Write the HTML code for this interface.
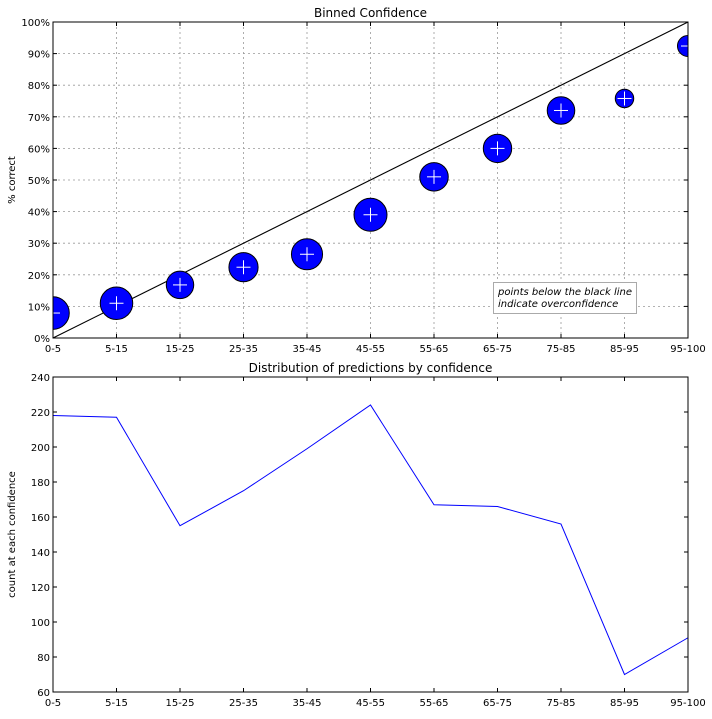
<!DOCTYPE html>
<html><head><meta charset="utf-8"><style>
body{margin:0;background:#fff;}
svg text{font-family:"DejaVu Sans","Liberation Sans",sans-serif;font-size:10px;fill:#000;}
</style></head><body>
<svg id="c" width="712" height="714"></svg>
<script>
const categories=["0-5","5-15","15-25","25-35","35-45","45-55","55-65","65-75","75-85","85-95","95-100"];
const pctCorrect=[7.9,11,16.8,22.4,26.5,39,51,60,72,75.8,92.4];
const counts=[218,217,155,175,199,224,167,166,156,70,91];
const pctTicks=[0,10,20,30,40,50,60,70,80,90,100];
const countTicks=[60,80,100,120,140,160,180,200,220,240];
const NS="http://www.w3.org/2000/svg";
const svg=document.getElementById('c');
function mk(t,a,p){const e=document.createElementNS(NS,t);for(const k in a)e.setAttribute(k,a[k]);(p||svg).appendChild(e);return e;}
const L=53,R=688;
const xs=i=>L+i*(R-L)/(categories.length-1);
const T1=22,B1=338;const y1=v=>B1-v/100*(B1-T1);
const T2=377,B2=692;const y2=v=>B2-(v-60)/180*(B2-T2);
function axes(T,B,ticks,yf,fmt,name,title,ylab){
 const g=mk('g',{});
 categories.forEach((c,i)=>{const x=xs(i);
  if(T===T1){const gl=mk('line',{x1:x,x2:x,y1:T,y2:B,stroke:'#999','stroke-dasharray':'2,3','stroke-width':0.8},g);}
  mk('line',{x1:x,x2:x,y1:B,y2:B-4,stroke:'#000'},g);mk('line',{x1:x,x2:x,y1:T,y2:T+4,stroke:'#000'},g);
  const t=mk('text',{x:x,y:B+14,'text-anchor':'middle'},g);t.textContent=c;});
 ticks.forEach(v=>{const y=yf(v);
  if(T===T1){const gl=mk('line',{x1:L,x2:R,y1:y,y2:y,stroke:'#999','stroke-dasharray':'2,3','stroke-width':0.8},g);}
  mk('line',{x1:L,x2:L+4,y1:y,y2:y,stroke:'#000'},g);mk('line',{x1:R,x2:R-4,y1:y,y2:y,stroke:'#000'},g);
  const t=mk('text',{x:L-3,y:y+4,'text-anchor':'end'},g);t.textContent=fmt(v);});
 const tt=mk('text',{x:(L+R)/2,y:T-5,'text-anchor':'middle'},g);tt.style.fontSize='12px';tt.textContent=title;
 const yl=mk('text',{x:0,y:0,'text-anchor':'middle',transform:`translate(15,${(T+B)/2}) rotate(-90)`},g);yl.textContent=ylab;
 return g;}
axes(T1,B1,pctTicks,y1,v=>v+'%','top-axes','Binned Confidence','% correct');
mk('clipPath',{id:'cp1'});mk('rect',{x:L,y:T1,width:R-L,height:B1-T1},svg.lastChild);
const diag=mk('line',{x1:L,y1:y1(0),x2:R,y2:y1(100),stroke:'#000','stroke-width':1.1});

const pg=mk('g',{'clip-path':'url(#cp1)'});
const maxC=Math.max(...counts);
pctCorrect.forEach((p,i)=>{const x=xs(i),y=y1(p),r=16.5*Math.sqrt(counts[i]/maxC);
 const c=mk('circle',{cx:x,cy:y,r:r,fill:'#0000ff',stroke:'#000','stroke-width':1},pg);
 
 mk('line',{x1:x-7,x2:x+7,y1:y,y2:y,stroke:'#fff'},pg);mk('line',{x1:x,x2:x,y1:y-7,y2:y+7,stroke:'#fff'},pg);});
mk('rect',{x:L,y:T1,width:R-L,height:B1-T1,fill:'none',stroke:'#000','stroke-width':1});
const lg=mk('g',{});
mk('rect',{x:493.5,y:282.5,width:143,height:31,fill:'#fff',stroke:'#aaa'},lg);
let a=mk('text',{x:498,y:295,'font-style':'italic'},lg);a.textContent='points below the black line';
a=mk('text',{x:498,y:307,'font-style':'italic'},lg);a.textContent='indicate overconfidence';
axes(T2,B2,countTicks,y2,v=>v,'bottom-axes','Distribution of predictions by confidence','count at each confidence');
const ln=mk('polyline',{points:counts.map((c,i)=>xs(i)+','+y2(c)).join(' '),fill:'none',stroke:'#0000ff','stroke-width':1});

mk('rect',{x:L,y:T2,width:R-L,height:B2-T2,fill:'none',stroke:'#000','stroke-width':1});
</script>
</body></html>
